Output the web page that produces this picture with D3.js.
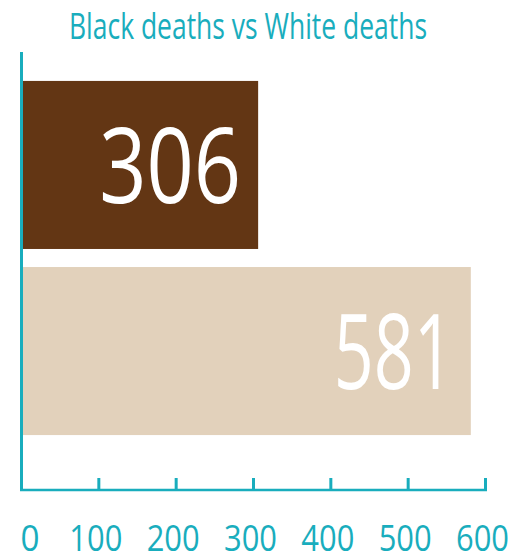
<!DOCTYPE html>
<html>
<head>
<meta charset="utf-8">
<script src="https://cdn.jsdelivr.net/npm/d3@7"></script>
<style>
  body { margin: 0; background: #fff; }
  text { font-family: "Open Sans", "Noto Sans", sans-serif; }
</style>
</head>
<body>
<script>
// data
var categories = ["Black", "White"];
var deaths = [306, 581];
var tickValues = [0, 100, 200, 300, 400, 500, 600];
var barColors = ["#633614", "#e2d1bb"];
var teal = "#19adbd";

var W = 523, H = 555;
var svg = d3.select("body").append("svg")
    .attr("width", W)
    .attr("height", H);

var x = d3.scaleLinear().domain([0, 600]).range([21.5, 485.5]);
var y = d3.scaleBand().domain(categories).range([72, 444])
    .paddingInner(0.097).paddingOuter(0.048);

// the original font is a narrow one, so squeeze the glyphs to fit
function squeeze(sel, w) {
    sel.attr("textLength", w).attr("lengthAdjust", "spacingAndGlyphs");
}

// title
svg.append("text")
    .attr("x", 248)
    .attr("y", 39)
    .attr("text-anchor", "middle")
    .style("font-size", "36px")
    .style("fill", teal)
    .text("Black deaths vs White deaths")
    .call(squeeze, 358);

// bars
svg.selectAll("rect.bar")
    .data(deaths)
    .enter()
    .append("rect")
    .attr("class", "bar")
    .attr("x", x(0) + 1)
    .attr("y", function(d, i) { return y(categories[i]); })
    .attr("width", function(d) { return x(d) - x(0) - 1; })
    .attr("height", y.bandwidth())
    .style("fill", function(d, i) { return barColors[i]; });

// value labels inside bars
svg.selectAll("text.val")
    .data(deaths)
    .enter()
    .append("text")
    .attr("class", "val")
    .attr("x", function(d) { return x(d) - 17; })
    .attr("y", function(d, i) { return y(categories[i]) + y.bandwidth() / 2 + 38; })
    .attr("text-anchor", "end")
    .style("font-size", "104px")
    .style("fill", "#fff")
    .text(function(d) { return d; })
    .each(function(d, i) { d3.select(this).call(squeeze, i == 0 ? 142 : 120); });

// vertical axis line
svg.append("line")
    .attr("x1", x(0)).attr("x2", x(0))
    .attr("y1", 52).attr("y2", 491)
    .style("stroke", teal)
    .style("stroke-width", 3);

// horizontal axis
var axisY = 490;
svg.append("line")
    .attr("x1", x(0) - 1.5).attr("x2", x(600) + 1.5)
    .attr("y1", axisY).attr("y2", axisY)
    .style("stroke", teal)
    .style("stroke-width", 2.5);

svg.selectAll("line.tick")
    .data(tickValues.slice(1))
    .enter()
    .append("line")
    .attr("class", "tick")
    .attr("x1", function(d) { return x(d); })
    .attr("x2", function(d) { return x(d); })
    .attr("y1", axisY - 12)
    .attr("y2", axisY)
    .style("stroke", teal)
    .style("stroke-width", 3);

svg.selectAll("text.tl")
    .data(tickValues)
    .enter()
    .append("text")
    .attr("class", "tl")
    .attr("x", function(d, i) { return i == 0 ? x(d) - 1 : x(d) - 3; })
    .attr("y", 551)
    .attr("text-anchor", function(d, i) { return i == 0 ? "start" : "middle"; })
    .style("font-size", "36px")
    .style("fill", teal)
    .text(function(d) { return d; })
    .each(function(d, i) { d3.select(this).call(squeeze, i == 0 ? 19 : 53); });
</script>
</body>
</html>
